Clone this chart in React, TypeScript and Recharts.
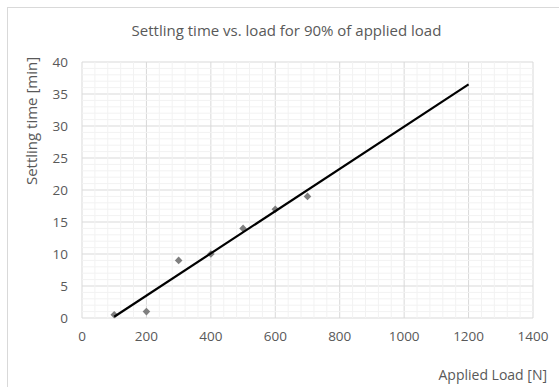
import { ScatterChart, Scatter, XAxis, YAxis, CartesianGrid, ReferenceLine } from "recharts";

const loads = [100, 200, 300, 400, 500, 600, 700];
const settlingTimes = [0.5, 1, 9, 10, 14, 17, 19];
// linear trendline endpoints
const trendLoads = [100, 1200];
const trendTimes = [0.2, 36.5];

const xTicks = [0, 200, 400, 600, 800, 1000, 1200, 1400];
const yTicks = [0, 5, 10, 15, 20, 25, 30, 35, 40];
// minor gridlines (every 40 N and every 1 min), skipping the major ones
const xMinorTicks = Array.from({ length: 36 }, (_, i) => i * 40).filter((v) => v % 200 !== 0);
const yMinorTicks = Array.from({ length: 41 }, (_, i) => i).filter((v) => v % 5 !== 0);

const points = loads.map((x, i) => ({ x, y: settlingTimes[i] }));
const trend = trendLoads.map((x, i) => ({ x, y: trendTimes[i] }));

const FONT = "'Open Sans', 'Noto Sans', sans-serif";
const TEXT = "#595959";
const MINOR = "#f2f2f2";

const Diamond = (props: any) => {
    const { cx, cy } = props;
    const r = 3.8;
    return (
        <polygon
            points={`${cx},${cy - r} ${cx + r},${cy} ${cx},${cy + r} ${cx - r},${cy}`}
            fill="#7f7f7f"
        />
    );
};

const NoDot = () => <g />;

const App = () => {
    return (
        <div style={{ position: "absolute", left: 0, top: 0, width: 559, height: 387, background: "#fff", overflow: "hidden", fontFamily: FONT }}>
            <div style={{ position: "absolute", left: 7, top: 7, width: 600, height: 420, border: "1px solid #d9d9d9", boxSizing: "border-box" }} />
            <div style={{ position: "absolute", left: 7, width: 559, top: 20, textAlign: "center", fontSize: 15, color: TEXT }}>
                Settling time vs. load for 90% of applied load
            </div>
            <div style={{ position: "absolute", left: 31, top: 121, transform: "translate(-50%, -50%) rotate(-90deg)", whiteSpace: "nowrap", fontSize: 15, color: TEXT }}>
                Settling time [min]
            </div>
            <div style={{ position: "absolute", right: 12, top: 365, whiteSpace: "nowrap", fontSize: 14, color: TEXT }}>
                Applied Load [N]
            </div>
            <ScatterChart
                width={559}
                height={387}
                margin={{ top: 62, right: 26, bottom: 39, left: 42 }}
                style={{ position: "absolute", left: 0, top: 0 }}
            >
                {xMinorTicks.map((v) => (
                    <ReferenceLine key={"x" + v} x={v} stroke={MINOR} />
                ))}
                {yMinorTicks.map((v) => (
                    <ReferenceLine key={"y" + v} y={v} stroke={MINOR} />
                ))}
                <CartesianGrid stroke="#d9d9d9" />
                <XAxis
                    type="number"
                    dataKey="x"
                    domain={[0, 1400]}
                    ticks={xTicks}
                    axisLine={false}
                    tickLine={false}
                    tickMargin={7}
                    tick={{ fill: TEXT, fontSize: 13.5, fontFamily: FONT }}
                />
                <YAxis
                    type="number"
                    dataKey="y"
                    domain={[0, 40]}
                    ticks={yTicks}
                    width={40}
                    axisLine={false}
                    tickLine={false}
                    tickMargin={8}
                    tick={{ fill: TEXT, fontSize: 13.5, fontFamily: FONT }}
                />
                <Scatter data={points} shape={<Diamond />} isAnimationActive={false} />
                <Scatter
                    data={trend}
                    line={{ stroke: "#000", strokeWidth: 2.2 }}
                    lineType="joint"
                    shape={<NoDot />}
                    isAnimationActive={false}
                />
            </ScatterChart>
        </div>
    );
};

export default App;
